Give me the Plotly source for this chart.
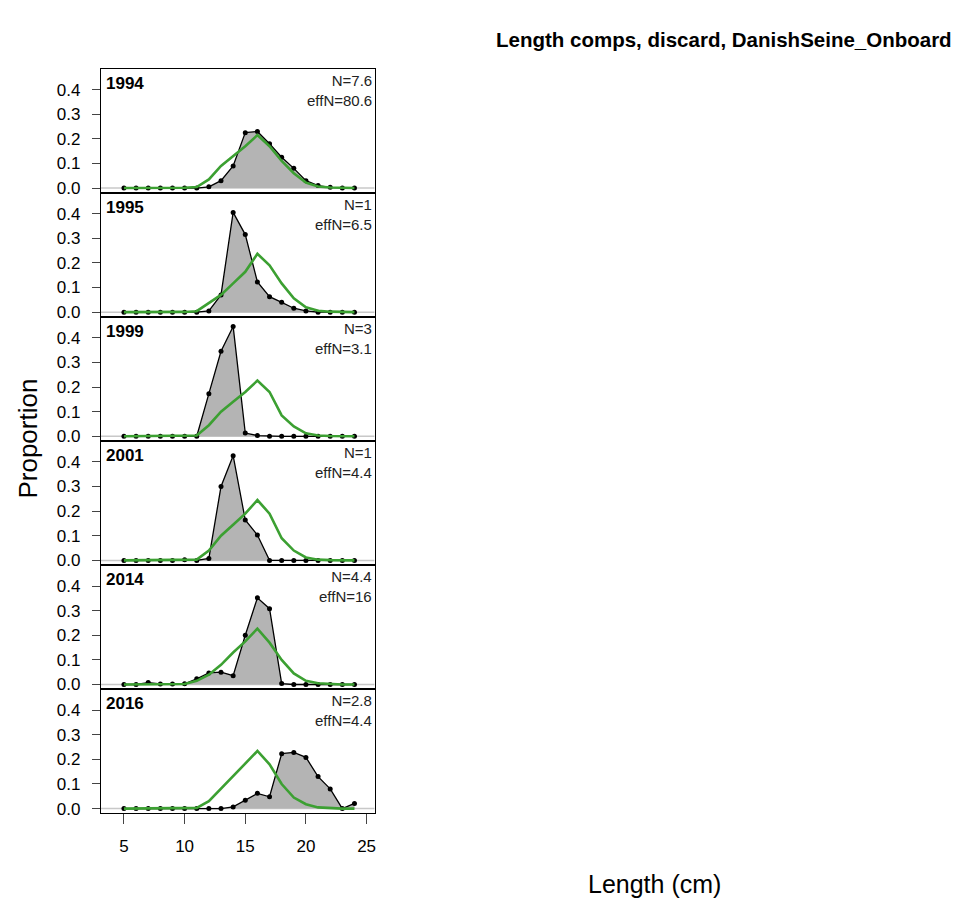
import plotly.graph_objects as go

lengths = list(range(5, 25))
years = ["1994", "1995", "1999", "2001", "2014", "2016"]
n_labels = ["N=7.6", "N=1", "N=3", "N=1", "N=4.4", "N=2.8"]
effn_labels = ["effN=80.6", "effN=6.5", "effN=3.1", "effN=4.4", "effN=16", "effN=4.4"]

obs_1994 = [0, 0, 0, 0, 0, 0, 0, 0.005, 0.03, 0.09, 0.225, 0.23, 0.18, 0.125, 0.08, 0.03, 0.01, 0.003, 0, 0]
obs_1995 = [0, 0, 0, 0, 0, 0, 0, 0.005, 0.07, 0.405, 0.315, 0.123, 0.063, 0.04, 0.016, 0.005, 0, 0, 0, 0]
obs_1999 = [0, 0, 0, 0, 0, 0, 0, 0.173, 0.345, 0.446, 0.013, 0.003, 0, 0, 0, 0, 0, 0, 0, 0]
obs_2001 = [0, 0, 0, 0, 0, 0.003, 0, 0.008, 0.30, 0.425, 0.164, 0.103, 0, 0, 0, 0, 0, 0, 0, 0]
obs_2014 = [0, 0, 0.008, 0.002, 0.002, 0.003, 0.023, 0.047, 0.05, 0.036, 0.2, 0.352, 0.308, 0.004, 0, 0, 0, 0, 0, 0]
obs_2016 = [0, 0, 0, 0, 0, 0, 0, 0, 0, 0.007, 0.034, 0.062, 0.048, 0.223, 0.228, 0.208, 0.13, 0.08, 0, 0.021]

exp_1994 = [0, 0, 0, 0, 0, 0.001, 0.004, 0.035, 0.09, 0.13, 0.17, 0.215, 0.17, 0.11, 0.06, 0.022, 0.006, 0.002, 0, 0]
exp_1995 = [0, 0, 0, 0, 0, 0.001, 0.004, 0.036, 0.07, 0.117, 0.164, 0.237, 0.19, 0.117, 0.056, 0.02, 0.006, 0.002, 0, 0]
exp_1999 = [0, 0, 0, 0, 0, 0.001, 0.003, 0.045, 0.1, 0.14, 0.18, 0.226, 0.18, 0.085, 0.04, 0.012, 0.003, 0.001, 0, 0]
exp_2001 = [0, 0, 0, 0, 0, 0.001, 0.003, 0.04, 0.1, 0.145, 0.19, 0.245, 0.19, 0.09, 0.04, 0.012, 0.003, 0.001, 0, 0]
exp_2014 = [0, 0, 0, 0, 0, 0.002, 0.015, 0.04, 0.08, 0.13, 0.175, 0.227, 0.17, 0.1, 0.045, 0.015, 0.005, 0.001, 0, 0]
exp_2016 = [0, 0, 0, 0, 0, 0.001, 0.003, 0.03, 0.08, 0.13, 0.18, 0.234, 0.18, 0.1, 0.045, 0.018, 0.005, 0.002, 0, 0]

obs_all = [obs_1994, obs_1995, obs_1999, obs_2001, obs_2014, obs_2016]
exp_all = [exp_1994, exp_1995, exp_1999, exp_2001, exp_2014, exp_2016]

W, H = 958, 909
left_px, right_px = 101, 375
top_px, step_px = 69, 124.8
xrange_ = [3.1, 25.66]
yrange_ = [-0.019, 0.485]

fig = go.Figure()
layout = dict(
    width=W, height=H, margin=dict(l=0, r=0, t=0, b=0),
    paper_bgcolor="white", plot_bgcolor="white", showlegend=False,
    font=dict(family="Liberation Sans, Arial, sans-serif", color="black"),
)
annotations = []
n = len(years)
for i in range(n):
    k = i + 1
    xa = "x" if k == 1 else f"x{k}"
    ya = "y" if k == 1 else f"y{k}"
    y0 = 1 - (top_px + step_px * (i + 1)) / H
    y1 = 1 - (top_px + step_px * i) / H
    # grey zero line
    fig.add_trace(go.Scatter(x=[xrange_[0], xrange_[1]], y=[0, 0], mode="lines",
                             line=dict(color="#c8c8c8", width=1.5), xaxis=xa, yaxis=ya,
                             hoverinfo="skip"))
    # observed polygon
    fig.add_trace(go.Scatter(x=lengths, y=obs_all[i], mode="lines+markers",
                             fill="tozeroy", fillcolor="rgb(180,180,180)",
                             line=dict(color="black", width=1.3),
                             marker=dict(color="black", size=5),
                             xaxis=xa, yaxis=ya))
    # expected line
    fig.add_trace(go.Scatter(x=lengths, y=exp_all[i], mode="lines",
                             line=dict(color="rgb(60,160,50)", width=2.6),
                             xaxis=xa, yaxis=ya))
    last = (i == n - 1)
    layout["xaxis" if k == 1 else f"xaxis{k}"] = dict(
        domain=[left_px / W, right_px / W], range=xrange_, anchor=ya,
        showline=True, linecolor="black", linewidth=1.2, mirror=True,
        showgrid=False, zeroline=False,
        ticks="outside" if last else "", ticklen=10, tickwidth=1.2,
        tickvals=[5, 10, 15, 20, 25], showticklabels=last,
        tickfont=dict(size=17), ticklabelstandoff=7,
    )
    layout["yaxis" if k == 1 else f"yaxis{k}"] = dict(
        domain=[y0, y1], range=yrange_, anchor=xa,
        showline=True, linecolor="black", linewidth=1.2, mirror=True,
        showgrid=False, zeroline=False,
        ticks="outside", ticklen=8, tickwidth=1.2,
        tickvals=[0, 0.1, 0.2, 0.3, 0.4], ticktext=["0.0", "0.1", "0.2", "0.3", "0.4"],
        tickfont=dict(size=17), ticklabelstandoff=8,
    )
    annotations.append(dict(text=f"<b>{years[i]}</b>", x=(left_px + 3) / W, y=y1 - 3 / H,
                            xref="paper", yref="paper", xanchor="left", yanchor="top",
                            showarrow=False, font=dict(size=17)))
    annotations.append(dict(text=f"{n_labels[i]}<br>{effn_labels[i]}", x=(right_px - 1) / W,
                            y=y1 - 1 / H, xref="paper", yref="paper", xanchor="right",
                            yanchor="top", align="right", showarrow=False,
                            font=dict(size=15, color="#222222")))

annotations.append(dict(text="<b>Length comps, discard, DanishSeine_Onboard</b>", x=955 / W, y=1 - 40 / H,
                        xref="paper", yref="paper", xanchor="right", yanchor="middle",
                        showarrow=False, font=dict(size=20.5)))
annotations.append(dict(text="Proportion", x=28 / W, y=1 - 441 / H, xref="paper", yref="paper",
                        xanchor="center", yanchor="middle", textangle=-90, showarrow=False,
                        font=dict(size=26)))
annotations.append(dict(text="Length (cm)", x=655 / W, y=1 - 889 / H, xref="paper", yref="paper",
                        xanchor="center", yanchor="middle", showarrow=False, font=dict(size=25)))
layout["annotations"] = annotations
fig.update_layout(**layout)
fig.write_html("out.html")
